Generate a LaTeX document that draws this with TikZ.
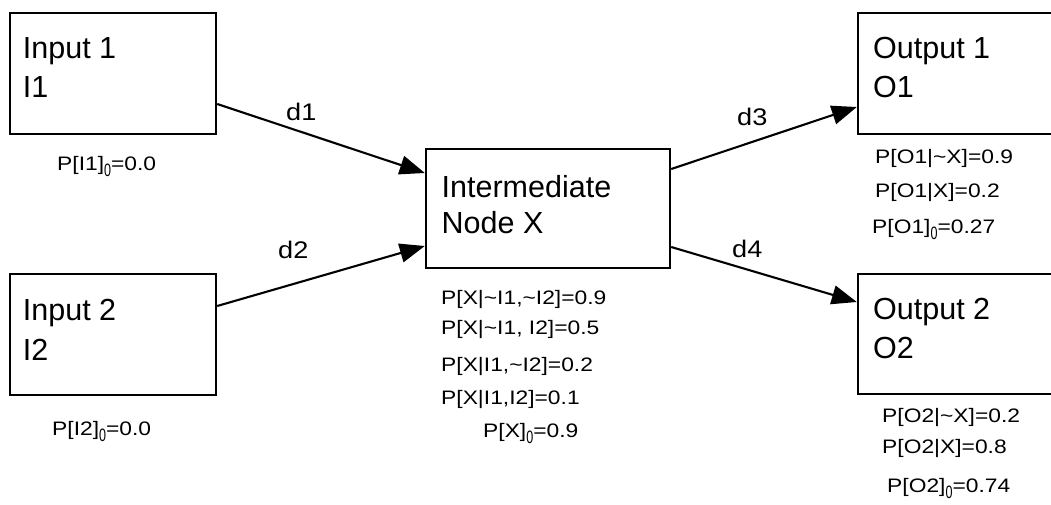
\documentclass[tikz,border=0pt]{standalone}
\usepackage{fontspec}
\usepackage{graphicx}
\setmainfont{Liberation Sans}
\newfontfamily\smallf[FakeStretch=1.17]{Liberation Sans}
\newfontfamily\labf[FakeStretch=1.13]{Liberation Sans}
\newcommand{\subz}{\raisebox{-6.5pt}{\scalebox{0.55}[0.92]{0}}}
\usetikzlibrary{arrows.meta}
\begin{document}
\begin{tikzpicture}[x=1pt,y=-1pt,
  box/.style={draw,line width=2.4pt,rectangle,inner sep=0pt},
  big/.style={anchor=base west,inner sep=0pt,font=\fontsize{30.5}{36}\selectfont},
  prob/.style={anchor=base west,inner sep=0pt,font=\smallf\fontsize{19.5}{22}\selectfont},
  elab/.style={anchor=base west,inner sep=0pt,font=\labf\fontsize{24}{28}\selectfont},
  conn/.style={line width=2.1pt,-{Triangle[length=25pt,width=19pt]}}]
\useasboundingbox (0,0) rectangle (1051,504);
\clip (0,0) rectangle (1051,504);
% boxes
\node[box,minimum width=206pt,minimum height=121pt] (in1) at (113,73.5) {};
\node[box,minimum width=206pt,minimum height=121pt] (in2) at (113,334.5) {};
\node[box,minimum width=244pt,minimum height=119pt] (x) at (548,208.5) {};
\node[box,minimum width=212pt,minimum height=121pt] (out1) at (964,73.5) {};
\node[box,minimum width=212pt,minimum height=120pt] (out2) at (964,334) {};
% box texts
\node[big] (t1a) at (22.7,58) {Input 1};
\node[big] (t1b) at (22.7,97) {I1};
\node[big] (t2a) at (22.7,320) {Input 2};
\node[big] (t2b) at (22.7,360) {I2};
\node[big] (txa) at (441.5,197) {Intermediate};
\node[big] (txb) at (441.5,233) {Node X};
\node[big] (to1a) at (873,58) {Output 1};
\node[big] (to1b) at (873,97) {O1};
\node[big] (to2a) at (873,319) {Output 2};
\node[big] (to2b) at (873,358) {O2};
% probabilities
\node[prob] (p1) at (57,170) {P[I1]\subz=0.0};
\node[prob] (p2) at (52,435) {P[I2]\subz=0.0};
\node[prob] (px1) at (441,304) {P[X|\char`\~I1,\char`\~I2]=0.9};
\node[prob] (px2) at (441,334) {P[X|\char`\~I1, I2]=0.5};
\node[prob] (px3) at (441,371) {P[X|I1,\char`\~I2]=0.2};
\node[prob] (px4) at (441,404) {P[X|I1,I2]=0.1};
\node[prob] (px5) at (483,437) {P[X]\subz=0.9};
\node[prob] (po11) at (875,163) {P[O1|\char`\~X]=0.9};
\node[prob] (po12) at (875,197) {P[O1|X]=0.2};
\node[prob] (po13) at (872,233) {P[O1]\subz=0.27};
\node[prob] (po21) at (882,422) {P[O2|\char`\~X]=0.2};
\node[prob] (po22) at (882,453) {P[O2|X]=0.8};
\node[prob] (po23) at (887,492) {P[O2]\subz=0.74};
% connectors
\draw[conn] ([yshift=-30.5pt]in1.east) -- ([yshift=35.5pt]x.west);
\draw[conn] ([yshift=28.5pt]in2.east) -- ([yshift=-37.5pt]x.west);
\draw[conn] ([yshift=39.5pt]x.east) -- ([yshift=-33.5pt]out1.west);
\draw[conn] ([yshift=-38.5pt]x.east) -- ([yshift=32pt]out2.west);
% connector labels
\node[elab] (l1) at (286,120) {d1};
\node[elab] (l2) at (278,258) {d2};
\node[elab] (l3) at (737,125) {d3};
\node[elab] (l4) at (732,257) {d4};
\end{tikzpicture}
\end{document}
